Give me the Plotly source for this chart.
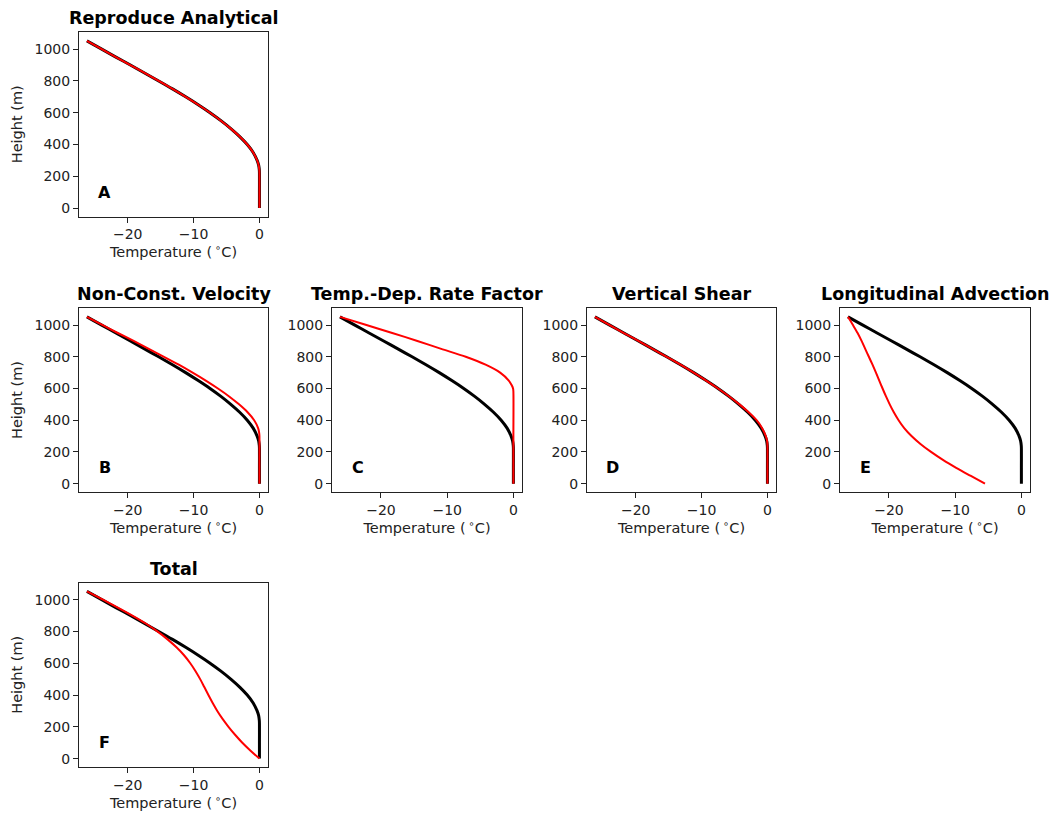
import plotly.graph_objects as go

# ---- data (height in m, temperature in deg C) ----
z_black = [0, 100, 220, 240, 270, 300, 350, 400, 450, 500, 550, 600, 650, 700, 750, 800, 850, 900, 950, 1000, 1052]
t_black = [0, 0, 0, -0.02, -0.12, -0.35, -0.95, -1.85, -3.0, -4.35, -5.85, -7.5, -9.3, -11.2, -13.2, -15.3, -17.45, -19.6, -21.8, -23.95, -26.2]

# A: reproduce analytical (same as analytical)
z_red_a = list(z_black)
t_red_a = list(t_black)

# B: non-constant velocity
z_red_b = [0, 150, 300, 320, 350, 400, 450, 500, 550, 600, 650, 700, 750, 800, 850, 900, 950, 1000, 1052]
t_red_b = [0, 0, 0, -0.04, -0.2, -0.8, -1.8, -3.1, -4.6, -6.3, -8.15, -10.15, -12.25, -14.5, -16.8, -19.1, -21.5, -23.8, -26.2]

# C: temperature-dependent rate factor
z_red_c = [0, 300, 580, 600, 620, 650, 700, 750, 800, 850, 900, 950, 1000, 1052]
t_red_c = [0, 0, 0, -0.05, -0.25, -0.7, -2.0, -4.2, -7.2, -10.9, -14.5, -18.3, -22.2, -26.2]

# D: vertical shear
z_red_d = [0, 100, 240, 270, 300, 350, 400, 450, 500, 550, 600, 650, 700, 750, 800, 850, 900, 950, 1000, 1052]
t_red_d = [0, 0, 0, -0.05, -0.25, -0.8, -1.65, -2.85, -4.25, -5.8, -7.5, -9.3, -11.2, -13.2, -15.3, -17.45, -19.6, -21.8, -23.95, -26.2]

# E: longitudinal advection
z_red_e = [0, 50, 100, 150, 200, 250, 300, 350, 400, 450, 500, 550, 600, 650, 700, 750, 800, 850, 900, 950, 1000, 1052]
t_red_e = [-5.5, -7.7, -9.85, -11.85, -13.65, -15.25, -16.6, -17.7, -18.55, -19.27, -19.89, -20.45, -20.97, -21.47, -21.97, -22.49, -23.04, -23.59, -24.14, -24.74, -25.44, -26.2]

# F: total
z_red_f = [0, 50, 100, 150, 200, 250, 300, 350, 400, 450, 500, 550, 600, 650, 700, 750, 800, 850, 900, 950, 1000, 1052]
t_red_f = [0, -1.35, -2.6, -3.7, -4.7, -5.6, -6.4, -7.1, -7.75, -8.37, -9.0, -9.7, -10.5, -11.45, -12.6, -13.95, -15.5, -17.25, -19.3, -21.5, -23.75, -26.2]

titles = ["Reproduce Analytical", "Non-Const. Velocity", "Temp.-Dep. Rate Factor",
          "Vertical Shear", "Longitudinal Advection", "Total"]
letters = ["A", "B", "C", "D", "E", "F"]
red_z = [z_red_a, z_red_b, z_red_c, z_red_d, z_red_e, z_red_f]
red_t = [t_red_a, t_red_b, t_red_c, t_red_d, t_red_e, t_red_f]

x_ticks = [-20, -10, 0]
y_ticks = [0, 200, 400, 600, 800, 1000]
x_range = [-27.4, 1.3]
y_range = [-52.75, 1107.75]

W, H = 1052, 814
col_px = [(79, 268), (332, 522), (587, 776), (840, 1030)]
row_px = [(32, 216.5), (308, 492), (582.5, 767)]
# panel -> (row, col)
pos = [(0, 0), (1, 0), (1, 1), (1, 2), (1, 3), (2, 0)]

FONT = "DejaVu Sans"
fig = go.Figure()
annotations = []
layout = {}
for i in range(6):
    r, c = pos[i]
    n = "" if i == 0 else str(i + 1)
    xd = [col_px[c][0] / W, col_px[c][1] / W]
    yd = [1 - row_px[r][1] / H, 1 - row_px[r][0] / H]
    ax_common = dict(showline=True, linecolor="#222", linewidth=1, mirror=True,
                     ticks="outside", ticklen=5, tickwidth=1, tickcolor="#222",
                     showgrid=False, zeroline=False,
                     tickfont=dict(family=FONT, size=14, color="#222"))
    layout["xaxis" + n] = dict(domain=xd, range=x_range, tickvals=x_ticks,
                               anchor="y" + n,
                               title=dict(text="Temperature (\u2009<sup>\u2218</sup>C)",
                                          font=dict(family=FONT, size=14.5, color="#222"),
                                          standoff=5),
                               **ax_common)
    yax = dict(domain=yd, range=y_range, tickvals=y_ticks, anchor="x" + n, **ax_common)
    if c == 0:
        yax["title"] = dict(text="Height (m)", font=dict(family=FONT, size=14.5, color="#222"),
                            standoff=8)
    layout["yaxis" + n] = yax

    fig.add_trace(go.Scatter(x=t_black, y=z_black, mode="lines",
                             line=dict(color="black", width=3, shape="spline", smoothing=0.8),
                             xaxis="x" + n, yaxis="y" + n, showlegend=False, hoverinfo="skip"))
    fig.add_trace(go.Scatter(x=red_t[i], y=red_z[i], mode="lines",
                             line=dict(color="red", width=2, shape="spline", smoothing=0.8),
                             xaxis="x" + n, yaxis="y" + n, showlegend=False, hoverinfo="skip"))

    annotations.append(dict(text="<b>" + titles[i] + "</b>", xref="paper", yref="paper",
                            x=(xd[0] + xd[1]) / 2, y=yd[1], xanchor="center", yanchor="bottom",
                            yshift=2, showarrow=False,
                            font=dict(family=FONT, size=17.5, color="black")))
    annotations.append(dict(text="<b>" + letters[i] + "</b>", xref="x" + n, yref="y" + n,
                            x=-23.5, y=100, xanchor="center", yanchor="middle",
                            showarrow=False, font=dict(family=FONT, size=16, color="black")))

fig.update_layout(width=W, height=H, margin=dict(l=0, r=0, t=0, b=0),
                  paper_bgcolor="white", plot_bgcolor="white",
                  annotations=annotations, **layout)
fig.write_html("out.html")
